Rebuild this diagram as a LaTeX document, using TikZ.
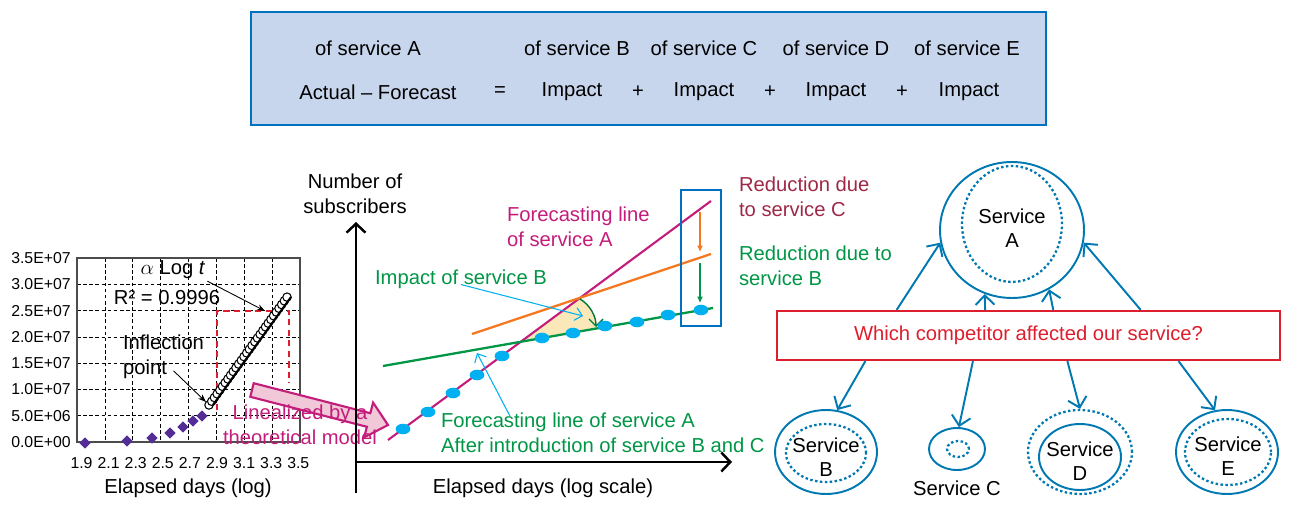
\documentclass[tikz,border=0pt]{standalone}
\usepackage{fontspec}
\setmainfont{Liberation Sans}
\usetikzlibrary{shapes.geometric, arrows.meta, calc, positioning}
\definecolor{boxfill}{RGB}{200,214,237}
\definecolor{boxline}{RGB}{0,112,192}
\definecolor{svcblue}{RGB}{0,120,178}
\definecolor{dotcyan}{RGB}{0,176,240}
\definecolor{fcmagenta}{RGB}{196,28,122}
\definecolor{impgreen}{RGB}{0,150,70}
\definecolor{redC}{RGB}{158,40,72}
\definecolor{fcorange}{RGB}{245,120,32}
\definecolor{askred}{RGB}{220,30,45}
\definecolor{diapurple}{RGB}{84,44,150}
\definecolor{impyellow}{RGB}{250,232,185}
\definecolor{linpink}{RGB}{240,200,215}
\tikzset{
x=0.02cm, y=-0.02cm, % one unit is one pixel of the sketch, y runs down
lbl/.style={font=\fontsize{11.5}{14}\selectfont, inner sep=1pt}, % ordinary text
tick/.style={font=\fontsize{9}{10}\selectfont, inner sep=0pt}, % axis numbers of the small chart
svc/.style={ellipse, draw=svcblue, line width=1.1pt, inner sep=0pt}, % solid service ring
svcdot/.style={svc, line width=1.3pt, dash pattern=on 1.4pt off 1.4pt}, % dotted service ring
link/.style={draw=svcblue, line width=1.1pt, -{Straight Barb[length=1.9mm,width=3.8mm]}},
axis/.style={line width=1.4pt, -{Straight Barb[length=1.8mm,width=3.8mm]}},
grid line/.style={black, line width=0.4pt, dash pattern=on 2pt off 1.5pt},
pointer/.style={line width=0.5pt, -{Stealth[length=1.6mm,width=1.2mm]}},
hint/.style={dotcyan, line width=0.6pt, -{Straight Barb[length=1.4mm,width=2.6mm]}},
}

\begin{document}
\begin{tikzpicture}
    \useasboundingbox (0,0) rectangle (1295,510);

    % formula box
    \node[draw=boxline, fill=boxfill, line width=1.2pt, minimum width=15.9cm, minimum height=2.26cm] (eqbox) at (648.5,68.5) {};
    \node[lbl] (ofA) at (368,48) {of service A};
    \node[lbl] (ofB) at (577,48) {of service B};
    \node[lbl] (ofC) at (704,48) {of service C};
    \node[lbl] (ofD) at (836,48) {of service D};
    \node[lbl] (ofE) at (967,48) {of service E};
    \node[lbl] (actual) at (378,92) {Actual -- Forecast};
    \node[lbl] (eq) at (500,92) {=};
    \node[lbl] (impB) at (572,92) {Impact};
    \node[lbl] (plus1) at (638,92) {+};
    \node[lbl] (impC) at (704,92) {Impact};
    \node[lbl] (plus2) at (770,92) {+};
    \node[lbl] (impD) at (836,92) {Impact};
    \node[lbl] (plus3) at (902,92) {+};
    \node[lbl] (impE) at (969,92) {Impact};

    % small chart
    \foreach \gx in {1,...,7}
        \draw[grid line] ({77+27.875*\gx},258) -- ({77+27.875*\gx},442);
    \foreach \k in {1,...,6}
        \draw[grid line] (77,{258+26.29*\k}) -- (300,{258+26.29*\k});
    \draw[gray!60!black, line width=0.6pt] (77,258) rectangle (300,442);
    \foreach \lab [count=\k from 0] in {3.5E+07,3.0E+07,2.5E+07,2.0E+07,1.5E+07,1.0E+07,5.0E+06,0.0E+00}
        \node[tick, anchor=east] (ytick\k) at (71,{258+26.29*\k}) {\lab};
    \foreach \lab [count=\i from 0] in {1.9,2.1,2.3,2.5,2.7,2.9,3.1,3.3,3.5}
        \node[tick] (xtick\i) at ({81.5+27.1*\i},463) {\lab};
    \node[lbl] (xlabsmall) at (188,488) {Elapsed days (log)};
    \foreach \ptx/\pty [count=\n] in {85/443,127/441,152/438,170/433,183/427,193/421,202/416}
        \node[diamond, fill=diapurple, inner sep=0pt, minimum size=0.23cm] (dia\n) at (\ptx,\pty) {};
    \draw[askred, line width=1.1pt, dash pattern=on 3.5pt off 2.5pt] (217,410) -- (217,311) -- (289,311) -- (289,383);
    \foreach \i in {0,...,29}
        \draw[fill=white, line width=0.6pt] ({209+2.69*\i},{405-3.72*\i}) circle (2.4pt);
    \draw[line width=1.2pt] (213,405) -- (291,297);
    \node[lbl] (loglbl) at (173,270) {$\alpha$ Log \textit{t}};
    \node[lbl] (r2lbl) at (167,298) {R² = 0.9996};
    \coordinate (fitend) at (265,311);
    \draw[pointer] (loglbl.south east) -- (fitend);
    \node[lbl, align=left, anchor=west] (inflbl) at (121,357) {Inflection\\point};
    \coordinate (infpt) at (206,402);
    \draw[pointer] ($(inflbl.south)+(10,-10)$) -- (infpt);

    % broad arrow to the forecast chart
    \draw[fcmagenta, fill=linpink, line width=1.2pt] (250.3,396.8) -- (366.9,426.8) -- (364.1,437.4) -- (388,425)
        -- (373.1,402.6) -- (370.3,413.2) -- (253.7,383.2) -- cycle;
    \node[lbl, text=fcmagenta, align=center] (linlbl) at (300,425) {Linealized by a\\theoretical model};

    % forecast chart
    \coordinate (orig) at (356,462);
    \draw[axis] (356,493) -- (356,222);
    \draw[axis] (orig) -- (732,462);
    \node[lbl, align=center] (ylab) at (355,194) {Number of\\subscribers};
    \node[lbl] (xlab) at (543,488) {Elapsed days (log scale)};
    \fill[impyellow] (520.7,341.8) -- (580,298) .. controls (590,305) and (597,316) .. (597,328.4) -- cycle;
    \draw[fcmagenta, line width=1.2pt] (388,440) -- (711,201);
    \draw[impgreen, line width=1.3pt] (383,366) -- (713,308);
    \draw[fcorange, line width=1.3pt] (472,334) -- (711,254);
    \draw[impgreen!80!black, line width=0.8pt, -{Straight Barb[length=1.4mm,width=2.8mm]}] (580,299) .. controls (590,305) and (596,316) .. (596,327);
    \foreach \ptx/\pty in {403/429,428/412,453/393,477/375,502/356,542/338,573/333,605/326,637/322,668/315,701/310}
        \fill[dotcyan] (\ptx,\pty) ellipse (4.2pt and 3pt);
    \node[lbl, text=fcmagenta, align=left, anchor=west] (fclbl) at (505,227) {Forecasting line\\of service A};
    \node[lbl, text=impgreen, anchor=west] (implbl) at (373,279) {Impact of service B};
    \node[lbl, text=impgreen, align=left, anchor=west] (afterlbl) at (439,433) {Forecasting line of service A\\After introduction of service B and C};
    \coordinate (impend) at (583,316);
    \coordinate (afterend) at (477,353);
    \draw[hint] ($(implbl.south)+(0,-6)$) -- (impend);
    \draw[hint] ($(afterlbl.north west)+(71,5)$) -- (afterend);
    \draw[boxline, line width=1.1pt] (681,190) rectangle (721,326);
    \draw[fcorange, line width=0.6pt, -{Latex[length=1.3mm,width=1.2mm]}] (700,212) -- (700,252);
    \draw[impgreen, line width=0.6pt, -{Latex[length=1.3mm,width=1.2mm]}] (700,263) -- (700,303);
    \node[lbl, text=redC, align=left, anchor=west] (redClbl) at (737,197) {Reduction due\\to service C};
    \node[lbl, text=impgreen, align=left, anchor=west] (redBlbl) at (737,266) {Reduction due to\\service B};

    % competitors
    \node[svc, minimum width=2.88cm, minimum height=2.72cm] (svcA) at (1012,230) {};
    \node[svcdot, minimum width=2cm, minimum height=2.32cm] (svcAin) at (1012,224) {};
    \node[lbl, align=center] (txtA) at (1012,228) {Service\\A};
    \node[svc, minimum width=2.04cm, minimum height=1.68cm] (svcB) at (826,452) {};
    \node[svcdot, minimum width=1.6cm, minimum height=1.16cm] (svcBin) at (826,453) {};
    \node[lbl, align=center] (txtB) at (826,457) {Service\\B};
    \node[svc, minimum width=1.12cm, minimum height=0.84cm] (svcC) at (957,449) {};
    \node[svcdot, minimum width=0.44cm, minimum height=0.32cm] (svcCin) at (958,449) {};
    \node[lbl] (txtC) at (957,488) {Service C};
    \node[svcdot, minimum width=2.08cm, minimum height=1.68cm] (svcD) at (1080,452) {};
    \node[svc, minimum width=1.64cm, minimum height=1.32cm] (svcDin) at (1080,457) {};
    \node[lbl, align=center] (txtD) at (1080,461) {Service\\D};
    \node[svc, minimum width=2.04cm, minimum height=1.68cm] (svcE) at (1227,452) {};
    \node[svcdot, minimum width=1.72cm, minimum height=1.32cm] (svcEin) at (1228,452) {};
    \node[lbl, align=center] (txtE) at (1228,456) {Service\\E};
    \node[draw=askred, line width=1.3pt, minimum width=10.06cm, minimum height=0.98cm, text=askred, lbl] (ask) at (1028.5,335.5) {Which competitor affected our service?};
    \draw[link] ($(ask.north west)!0.239!(ask.north east)$) -- (svcA.190);
    \draw[link] ($(ask.north west)!0.414!(ask.north east)$) -- (svcA.247);
    \draw[link] ($(ask.north west)!0.549!(ask.north east)$) -- (svcA.302);
    \draw[link] ($(ask.north west)!0.722!(ask.north east)$) -- (svcA.350);
    \draw[link] ($(ask.south west)!0.177!(ask.south east)$) -- (svcB.75);
    \draw[link] ($(ask.south west)!0.390!(ask.south east)$) -- (svcC.85);
    \draw[link] ($(ask.south west)!0.577!(ask.south east)$) -- (svcD.90);
    \draw[link] ($(ask.south west)!0.797!(ask.south east)$) -- (svcE.106);
\end{tikzpicture}
\end{document}
